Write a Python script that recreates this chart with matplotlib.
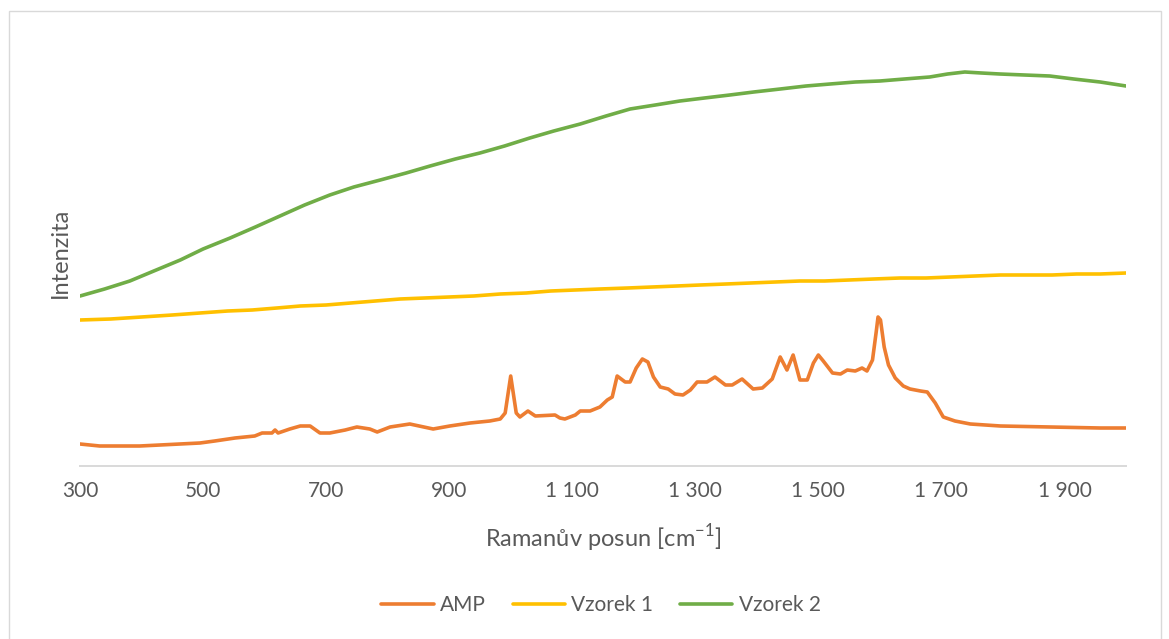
import matplotlib
matplotlib.use("Agg")
import matplotlib.pyplot as plt
from matplotlib.patches import Rectangle
from matplotlib.ticker import FixedLocator, FuncFormatter

plt.rcParams['font.family'] = ['Lato', 'DejaVu Sans']
plt.rcParams['mathtext.fontset'] = 'custom'
plt.rcParams['mathtext.rm'] = 'Lato'

GREY = '#595959'

# ── data (arbitrary intensity units) ──
amp_x = [300, 332, 397, 430, 495, 519, 552, 584, 596, 612, 617, 622, 641, 658, 674,
         690, 706, 731, 750, 771, 783, 804, 836, 874, 901, 934, 966, 983, 991, 1000,
         1009, 1015, 1028, 1040, 1072, 1080, 1088, 1105, 1113, 1129, 1145, 1157, 1165,
         1173, 1186, 1194, 1204, 1214, 1223, 1232, 1243, 1256, 1267, 1280, 1292, 1303,
         1319, 1332, 1349, 1360, 1376, 1394, 1409, 1425, 1438, 1449, 1459, 1470, 1482,
         1492, 1500, 1508, 1523, 1536, 1547, 1560, 1571, 1579, 1588, 1594, 1597, 1601,
         1607, 1614, 1625, 1638, 1649, 1666, 1677, 1690, 1703, 1722, 1747, 1796, 1877,
         1958, 2000]
amp_y = [22, 20, 20, 21, 23, 25, 28, 30, 33, 33, 36, 33, 37, 40, 40,
         33, 33, 36, 39, 37, 34, 39, 42, 37, 40, 43, 45, 47, 53, 90,
         53, 49, 55, 50, 51, 48, 47, 51, 55, 55, 59, 66, 69,
         90, 84, 84, 98, 107, 104, 89, 79, 77, 72, 71, 76, 84,
         84, 89, 81, 81, 87, 77, 78, 87, 109, 96, 111, 86, 86,
         103, 111, 105, 93, 92, 96, 95, 98, 95, 106, 134, 149, 146,
         119, 101, 88, 80, 77, 75, 74, 63, 49, 45, 42, 40, 39,
         38, 38]

v1_x = [300, 350, 400, 450, 495, 540, 580, 620, 658, 700, 740, 780, 820, 860, 900,
        940, 983, 1025, 1065, 1105, 1145, 1190, 1230, 1270, 1308, 1350, 1390, 1430,
        1470, 1510, 1550, 1590, 1633, 1675, 1715, 1755, 1796, 1840, 1880, 1920, 1958,
        2000]
v1_y = [146, 147, 149, 151, 153, 155, 156, 158, 160, 161, 163, 165, 167, 168, 169,
        170, 172, 173, 175, 176, 177, 178, 179, 180, 181, 182, 183, 184,
        185, 185, 186, 187, 188, 188, 189, 190, 191, 191, 191, 192, 192,
        193]

v2_x = [300, 340, 381, 420, 463, 500, 544, 585, 625, 665, 706, 745, 788, 830, 869,
        910, 950, 990, 1031, 1070, 1113, 1155, 1194, 1235, 1275, 1315, 1356, 1395,
        1438, 1480, 1519, 1560, 1600, 1640, 1681, 1710, 1738, 1765, 1795, 1835, 1876,
        1915, 1958, 2000]
v2_y = [170, 177, 185, 195, 206, 217, 228, 239, 250, 261, 271, 279, 286, 293, 300,
        307, 313, 320, 328, 335, 342, 350, 357, 361, 365, 368, 371, 374,
        377, 380, 382, 384, 385, 387, 389, 392, 394, 393, 392, 391, 390,
        387, 384, 380]

series = [("AMP", amp_x, amp_y, '#ED7D31'),
          ("Vzorek 1", v1_x, v1_y, '#FFC000'),
          ("Vzorek 2", v2_x, v2_y, '#70AD47')]
x_ticks = list(range(300, 2000, 200))

fig = plt.figure(figsize=(11.69, 6.39), dpi=100)
ax = fig.add_axes([80 / 1169, 173 / 639, 1046 / 1169, 440 / 639])

for name, xs, ys, color in series:
    ax.plot(xs, ys, color=color, linewidth=2.6, label=name, solid_capstyle='round')

ax.set_xlim(300, 2000)
ax.set_ylim(0, 440)
ax.xaxis.set_major_locator(FixedLocator(x_ticks))
ax.xaxis.set_major_formatter(FuncFormatter(lambda v, _: f"{int(v):,}".replace(",", " ")))
ax.set_yticks([])
ax.tick_params(axis='x', length=0, pad=11, labelsize=15, labelcolor=GREY)
for s in ['top', 'right', 'left']:
    ax.spines[s].set_visible(False)
ax.spines['bottom'].set_color('#D9D9D9')
ax.spines['bottom'].set_linewidth(1.4)

ax.set_xlabel(r'Ramanův posun [cm$^{\mathregular{-1}}$]', fontsize=17, color=GREY)
ax.xaxis.set_label_coords(0.5, -0.163)
ax.xaxis.label.set_va('center')
ax.set_ylabel('Intenzita', fontsize=17, color=GREY)
ax.yaxis.set_label_coords(-0.019, 0.484)
ax.yaxis.label.set_va('center')

fig.legend(loc='center', bbox_to_anchor=(601 / 1169, 1 - 605 / 639), ncol=3,
           frameon=False, fontsize=15, handlelength=2.5, handletextpad=0.3,
           columnspacing=1.3, labelcolor=GREY)

fig.patches.append(Rectangle((9 / 1169, -0.01), 1152 / 1169, 1 - 11 / 639 + 0.01,
                             transform=fig.transFigure, fill=False,
                             edgecolor='#D9D9D9', linewidth=1))

fig.savefig("out.png", dpi=100)
